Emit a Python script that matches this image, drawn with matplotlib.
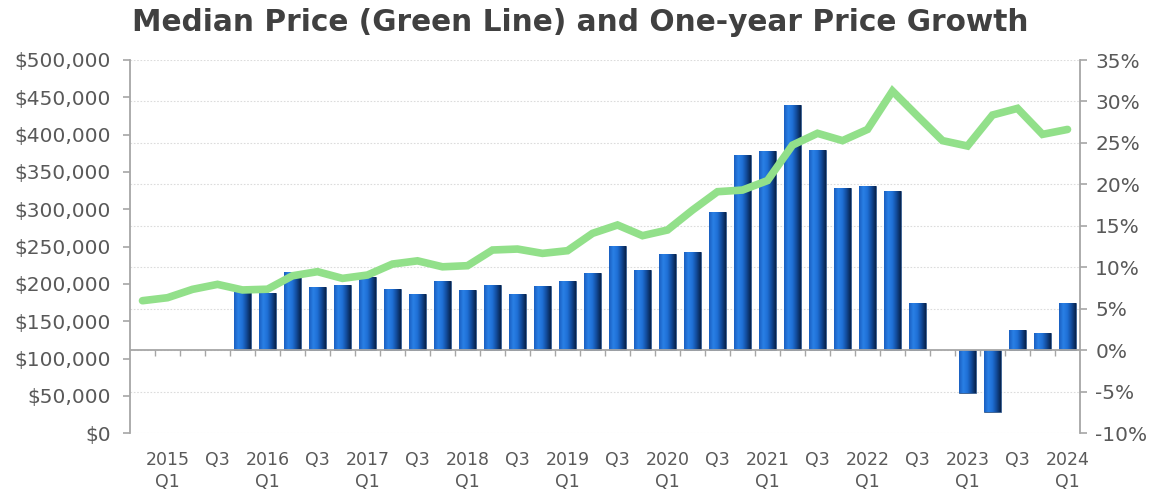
import numpy as np
import matplotlib
matplotlib.use("Agg")
import matplotlib.pyplot as plt
from matplotlib.ticker import FuncFormatter

# quarters from 2014 Q4 to 2024 Q1
quarters = ["2014 Q4"] + [f"{y} Q{q}" for y in range(2015, 2024) for q in range(1, 5)] + ["2024 Q1"]

# median price (green line, left axis)
median_price = [177600, 181600, 192800, 199500, 192000, 193000, 211000, 216500, 207500, 212000,
                226700, 231000, 223000, 224500, 245500, 246800, 241000, 244600, 267800, 279000,
                264700, 272300, 299000, 323600, 325800, 338500, 386000, 401800, 392000, 407000,
                458400, 425000, 392000, 384800, 426300, 435200, 400400, 407000]

# one-year price growth in % (bars, right axis); none for the first quarters
growth = [np.nan, np.nan, np.nan, np.nan, 7.6, 6.9, 9.5, 7.6, 7.9, 8.8,
          7.4, 6.8, 8.4, 7.3, 7.9, 6.8, 7.7, 8.4, 9.3, 12.6,
          9.7, 11.6, 11.8, 16.7, 23.6, 24.0, 29.6, 24.1, 19.6, 19.8,
          19.2, 5.7, 0.0, -5.2, -7.4, 2.5, 2.1, 5.7]

x_labels = []
for i, q in enumerate(quarters):
    year, qq = q.split()
    if i % 2 == 1:
        x_labels.append(f"{year}\n{qq}" if qq == "Q1" else qq)

txt = "#595959"
axis_col = "#A6A6A6"
plt.rcParams["font.family"] = ["DejaVu Sans"]

fig = plt.figure(figsize=(11.5, 4.91), dpi=100)
ax = fig.add_axes([130 / 1150, 1 - 433.3 / 491, 950 / 1150, 373.3 / 491])
ax2 = ax.twinx()

x = np.arange(len(quarters))

# bars with a horizontal shading to mimic the 3d look
bw = 0.66
grad = np.linspace(0, 1, 64).reshape(1, -1)
cmap = matplotlib.colors.LinearSegmentedColormap.from_list(
    "bar", ["#1a5fc0", "#2a80e6", "#1f6fd6", "#124a98", "#07224a"])
bars = ax2.bar(x, growth, width=bw, color="#1f6fd6", zorder=2)
for b in bars:
    h = b.get_height()
    if np.isnan(h) or h == 0:
        continue
    x0 = b.get_x()
    y0, y1 = sorted([0, h])
    im = ax2.imshow(grad, cmap=cmap, aspect="auto", extent=[x0, x0 + bw, y0, y1],
                    zorder=2.1, interpolation="bilinear")
    im.set_clip_path(b)
    b.set_edgecolor("#0a2a55")
    b.set_linewidth(0.4)

ax2.set_ylim(-10, 35)
ax2.set_yticks(np.arange(-10, 36, 5))
ax2.yaxis.set_major_formatter(FuncFormatter(lambda v, p: f"{v:.0f}%"))
ax2.grid(axis="y", color="#dcdcdc", linestyle=(0, (1.5, 1.5)), linewidth=0.8, zorder=0)
ax2.set_axisbelow(True)

# x axis line at 0% with boundary ticks
ax2.axhline(0, color=axis_col, linewidth=1.3, zorder=3)
ax2.vlines(np.arange(0.5, len(quarters) - 1, 1), -0.65, 0, color=axis_col, linewidth=1.0, zorder=3)

# line on the left axis
ax.plot(x, median_price, color="#92e08a", linewidth=5.5, solid_capstyle="round",
        solid_joinstyle="miter", zorder=5)
ax.set_ylim(0, 500000)
ax.set_yticks(np.arange(0, 500001, 50000))
ax.yaxis.set_major_formatter(FuncFormatter(lambda v, p: f"${v:,.0f}"))
ax.set_xlim(-0.5, len(quarters) - 0.5)
ax.set_xticks(x[1::2])
ax.set_xticklabels(x_labels)

ax.set_zorder(ax2.get_zorder() + 1)
ax.patch.set_visible(False)

for a in (ax, ax2):
    a.spines["top"].set_visible(False)
    a.spines["bottom"].set_visible(False)
    a.spines["left"].set_color(axis_col)
    a.spines["right"].set_color(axis_col)
    a.spines["left"].set_linewidth(1.3)
    a.spines["right"].set_linewidth(1.3)
ax.spines["right"].set_visible(False)
ax2.spines["left"].set_visible(False)

ax.tick_params(axis="y", colors=axis_col, labelcolor=txt, labelsize=14.5, length=5, width=1.2, pad=9)
ax2.tick_params(axis="y", colors=axis_col, labelcolor=txt, labelsize=14.5, length=5, width=1.2, pad=6)
ax.tick_params(axis="x", length=0, labelcolor=txt, labelsize=12.5, pad=13)
for lab in ax.get_xticklabels():
    lab.set_linespacing(1.25)

fig.text(0.505, 0.955, "Median Price (Green Line) and One-year Price Growth",
         ha="center", va="center", fontsize=21.3, fontweight="bold", color="#404040")

fig.savefig("out.png", dpi=100)
